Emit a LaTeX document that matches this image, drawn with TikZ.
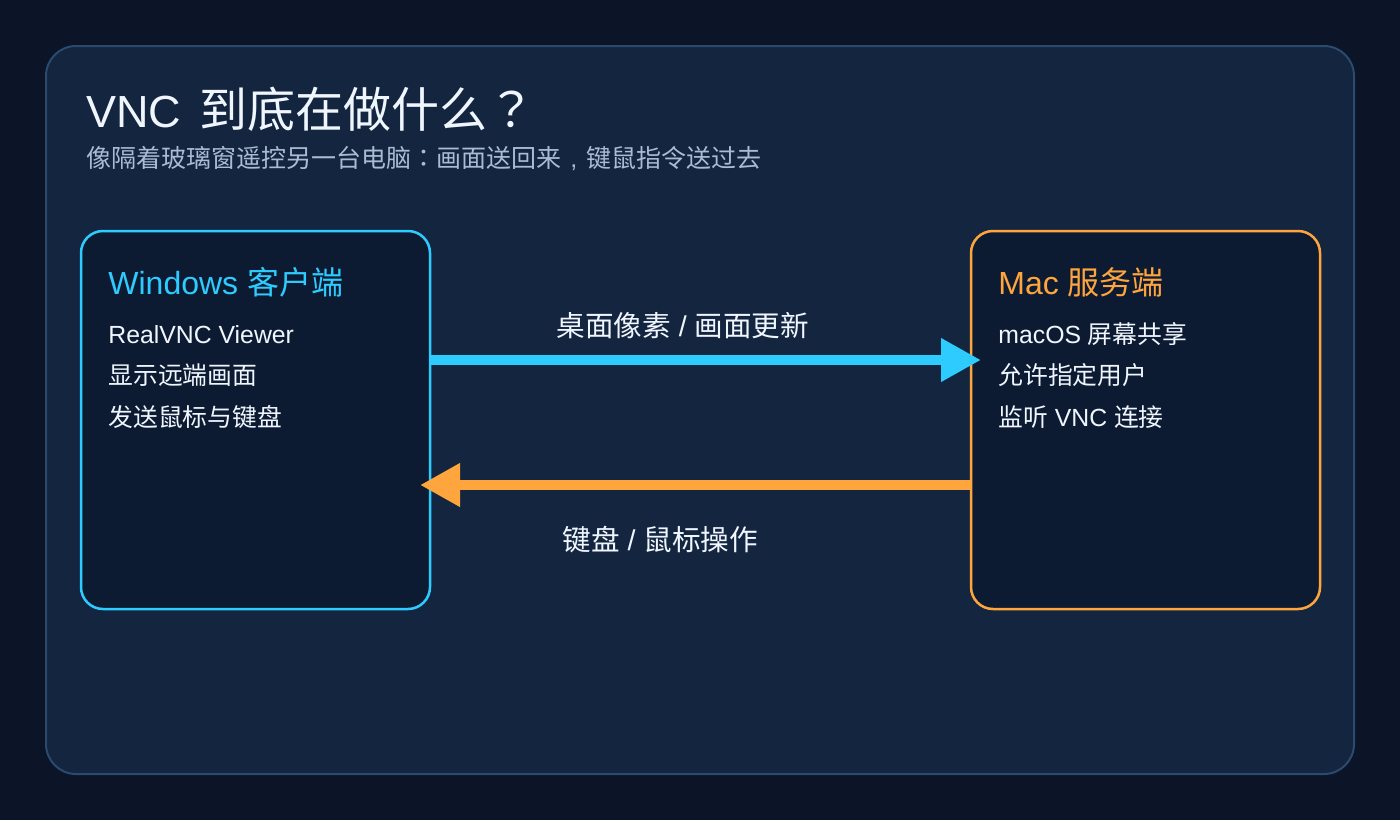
\documentclass[tikz,border=0pt]{standalone}
\usepackage{fontspec}
\setmainfont{Liberation Sans}
\newfontfamily\cjk{Noto Sans CJK SC}
\newfontfamily\cjkp{Noto Sans CJK TC}
\usetikzlibrary{arrows.meta}
\definecolor{bgouter}{HTML}{0B1527}
\definecolor{panelfill}{HTML}{13253F}
\definecolor{panelline}{HTML}{2A4A6E}
\definecolor{boxfill}{HTML}{0D1B32}
\definecolor{cyanc}{HTML}{2ECBFF}
\definecolor{orangec}{HTML}{FFA53D}
\definecolor{titletext}{HTML}{F0F6FF}
\definecolor{subtext}{HTML}{A9BCD4}
\begin{document}
\begin{tikzpicture}[x=0.5pt,y=-0.5pt,
  panel/.style={draw=panelline, fill=panelfill, line width=1pt, rounded corners=15pt,
    minimum width=654pt, minimum height=364pt, inner sep=0pt},
  hostbox/.style={fill=boxfill, line width=1.25pt, rounded corners=11pt,
    minimum width=174.5pt, minimum height=189pt, inner sep=0pt},
  txt/.style={anchor=base west, inner sep=0pt, text=titletext},
  boxtitle/.style={anchor=base west, inner sep=0pt, font=\fontsize{16pt}{18pt}\selectfont},
  item/.style={txt, font=\fontsize{12.4pt}{14pt}\selectfont},
  flowlabel/.style={txt, font=\fontsize{14.3pt}{16pt}\selectfont},
  flow/.style={line width=5pt, -{Triangle[length=20pt,width=20.5pt]}}
]
\useasboundingbox (0,0) rectangle (1400,820);
\fill[bgouter] (0,0) rectangle (1400,820);
\node[panel] (panel) at (700,410) {};

\node[txt, font=\fontsize{22.5pt}{26pt}\selectfont] (title) at (86,127)
  {VNC\hspace{9pt}{\fontsize{24pt}{26pt}\selectfont\cjk 到底在做什么}{\fontsize{24pt}{26pt}\selectfont\cjkp ？}};
\node[txt, text=subtext, font=\fontsize{12.5pt}{14pt}\selectfont] (subtitle) at (86,167)
  {{\cjk 像隔着玻璃窗遥控另一台电脑}{\cjkp ：}{\cjk 画面送回来}\makebox[1em][c]{,}{\cjk 键鼠指令送过去}};

\node[hostbox, draw=cyanc] (win) at (255.5,420) {};
\node[hostbox, draw=orangec] (mac) at (1145.5,420) {};

\node[boxtitle, text=cyanc] (wint) at (108,294) {Windows {\cjk 客户端}};
\node[item] (w1) at (108,343) {RealVNC Viewer};
\node[item] (w2) at (108,384.5) {\cjk 显示远端画面};
\node[item] (w3) at (108,426) {\cjk 发送鼠标与键盘};

\node[boxtitle, text=orangec] (mact) at (998,294) {Mac {\cjk 服务端}};
\node[item] (m1) at (998,343) {macOS {\cjk 屏幕共享}};
\node[item] (m2) at (998,384.5) {\cjk 允许指定用户};
\node[item] (m3) at (998,426) {{\cjk 监听} VNC {\cjk 连接}};

\coordinate (tipA) at (981,360);
\coordinate (tipB) at (420,485);
\draw[flow, cyanc] (win.east |- tipA) -- (tipA);
\draw[flow, orangec] (mac.west |- tipB) -- (tipB);

\node[flowlabel] (la) at (556,336) {{\cjk 桌面像素} / {\cjk 画面更新}};
\node[flowlabel] (lb) at (562,550) {{\cjk 键盘} / {\cjk 鼠标操作}};
\end{tikzpicture}
\end{document}
